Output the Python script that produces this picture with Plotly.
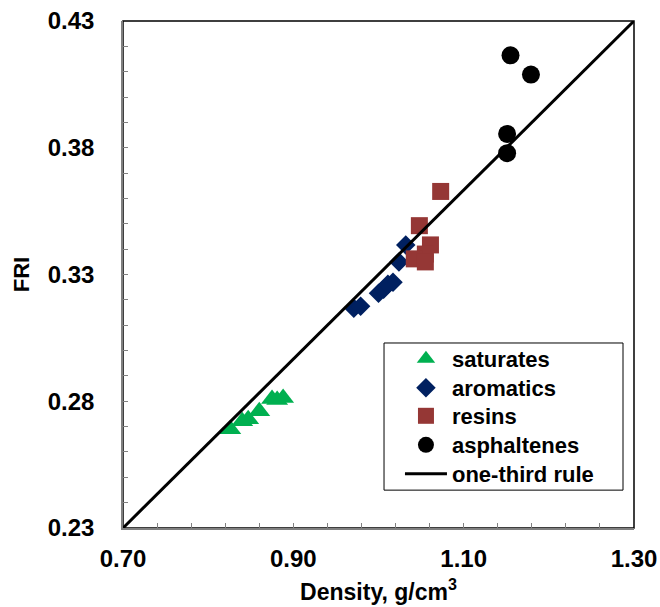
import plotly.graph_objects as go

# Density (g/cm3) and FRI for each SARA fraction
sat_density = [0.826, 0.840, 0.847, 0.860, 0.875, 0.881, 0.888]
sat_fri = [0.2723, 0.2754, 0.2762, 0.2794, 0.2842, 0.2838, 0.2846]

aro_density = [0.971, 0.979, 1.000, 1.006, 1.011, 1.017, 1.024, 1.032]
aro_fri = [0.3200, 0.3208, 0.3259, 0.3275, 0.3295, 0.3303, 0.3383, 0.3450]

res_density = [1.073, 1.048, 1.061, 1.055, 1.042, 1.055]
res_fri = [0.3661, 0.3526, 0.3450, 0.3414, 0.3395, 0.3383]

asp_density = [1.155, 1.179, 1.151, 1.151]
asp_fri = [0.4198, 0.4122, 0.3888, 0.3812]

# One-third rule: FRI = density / 3
rule_density = [0.70, 1.30]
rule_fri = [d / 3 for d in rule_density]

x_ticks = [0.70, 0.90, 1.10, 1.30]
y_ticks = [0.7 / 3 + 0.05 * i for i in range(5)]
y_tick_text = ["0.23", "0.28", "0.33", "0.38", "0.43"]

font_family = "Liberation Sans, Arial, sans-serif"

fig = go.Figure()

fig.add_trace(go.Scatter(
    x=sat_density, y=sat_fri, mode="markers", name="saturates", legend="legend",
    marker=dict(symbol="triangle-up", size=19, color="#00B050", line=dict(width=0)),
))
fig.add_trace(go.Scatter(
    x=aro_density, y=aro_fri, mode="markers", name="aromatics", legend="legend2",
    marker=dict(symbol="diamond", size=15, color="#002060", line=dict(width=0)),
))
fig.add_trace(go.Scatter(
    x=res_density, y=res_fri, mode="markers", name="resins", legend="legend3",
    marker=dict(symbol="square", size=17, color="#953735", line=dict(width=0)),
))
fig.add_trace(go.Scatter(
    x=asp_density, y=asp_fri, mode="markers", name="asphaltenes", legend="legend4",
    marker=dict(symbol="circle", size=18, color="#000000", line=dict(width=0)),
))
fig.add_trace(go.Scatter(
    x=rule_density, y=rule_fri, mode="lines", name="one-third rule", legend="legend5",
    line=dict(color="#000000", width=3),
))

# Plot-area frame
fig.add_shape(type="rect", xref="paper", yref="paper", x0=0, y0=0, x1=1, y1=1,
              line=dict(color="#000000", width=1.5), layer="below")
# Legend box
fig.add_shape(type="rect", xref="paper", yref="paper",
              x0=0.5108, x1=0.9785, y0=0.0747, y1=0.3649,
              line=dict(color="#000000", width=1), fillcolor="white", layer="below")

# One legend per row so the rows sit evenly inside the box
legend_rows = [0.3333, 0.2761, 0.2209, 0.1637, 0.1065]
legend_style = dict(
    x=0.542, xanchor="left", yanchor="middle",
    bgcolor="rgba(0,0,0,0)", borderwidth=0,
    font=dict(size=22, family=font_family, weight="bold"),
    itemwidth=42, tracegroupgap=0,
)
legends = {}
for i, ypos in enumerate(legend_rows):
    key = "legend" if i == 0 else f"legend{i + 1}"
    legends[key] = dict(legend_style, y=ypos)

fig.update_layout(
    width=660, height=607,
    margin=dict(l=123, r=26, t=21, b=79),
    paper_bgcolor="white", plot_bgcolor="white",
    font=dict(family=font_family, color="#000000"),
    showlegend=True,
    **legends,
    xaxis=dict(
        range=[0.70, 1.30], tickvals=x_ticks, tickformat=".2f", automargin=False,
        ticks="inside", ticklen=5, tickcolor="#808080",
        minor=dict(dtick=0.04, tick0=0.70, ticks="inside", ticklen=5, tickcolor="#808080"),
        showline=True, linecolor="#808080", linewidth=1.5, showgrid=False, zeroline=False,
        tickfont=dict(size=24, weight="bold"), ticklabelstandoff=8,
        title=dict(text="Density, g/cm<sup>3</sup>", font=dict(size=23, weight="bold"), standoff=13),
    ),
    yaxis=dict(
        range=[0.7 / 3, 1.3 / 3], tickvals=y_ticks, ticktext=y_tick_text, automargin=False,
        ticks="inside", ticklen=5, tickcolor="#808080",
        minor=dict(dtick=0.01, tick0=0.7 / 3, ticks="inside", ticklen=5, tickcolor="#808080"),
        showline=True, linecolor="#808080", linewidth=1.5, showgrid=False, zeroline=False,
        tickfont=dict(size=24, weight="bold"), ticklabelstandoff=22,
        title=dict(text="FRI", font=dict(size=22, weight="bold"), standoff=12),
    ),
)

fig.write_html("out.html")
